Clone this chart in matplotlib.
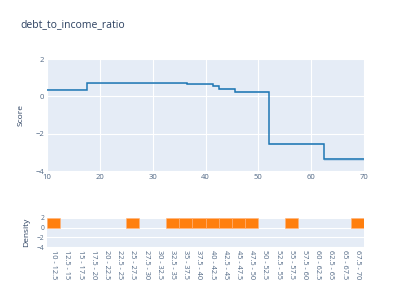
import numpy as np
import matplotlib
matplotlib.use("Agg")
import matplotlib.pyplot as plt

plt.rcParams["font.family"] = ["Open Sans", "DejaVu Sans"]

# score curve (step function over debt_to_income_ratio)
edges = [10, 17.5, 36.5, 41.5, 42.5, 45.5, 52, 62.5, 70]
score = [0.36, 0.70, 0.64, 0.56, 0.38, 0.23, -2.56, -3.38]
score_lo = [0.32, 0.67, 0.60, 0.51, 0.34, 0.19, -2.62, -3.45]
score_hi = [0.40, 0.73, 0.68, 0.61, 0.42, 0.27, -2.50, -3.31]

# density row
bins = ["10 - 12.5", "12.5 - 15", "15 - 17.5", "17.5 - 20", "20 - 22.5",
        "22.5 - 25", "25 - 27.5", "27.5 - 30", "30 - 32.5", "32.5 - 35",
        "35 - 37.5", "37.5 - 40", "40 - 42.5", "42.5 - 45", "45 - 47.5",
        "47.5 - 50", "50 - 52.5", "52.5 - 55", "55 - 57.5", "57.5 - 60",
        "60 - 62.5", "62.5 - 65", "65 - 67.5", "67.5 - 70"]
density = [2, 0, 0, 0, 0, 0, 2, 0, 0, 2, 2, 2, 2, 2, 2, 2, 0, 0, 2, 0, 0, 0, 0, 2]

BG = "#E5ECF6"
TXT = "#2a3f5f"
BLUE = "#1f77b4"
ORANGE = "#ff7f0e"

fig = plt.figure(figsize=(4.11, 2.94), dpi=100)
fig.text(20 / 411, 1 - 25 / 294, "debt_to_income_ratio", fontsize=7.5,
         color=TXT, ha="left", va="center")


def style(ax):
    ax.set_facecolor(BG)
    for s in ax.spines.values():
        s.set_visible(False)
    ax.tick_params(length=0, colors="#506784", labelsize=5.5, pad=2)
    ax.set_axisbelow(True)


# top panel
ax1 = fig.add_axes([47 / 411, 1 - 171 / 294, 317 / 411, 112 / 294])
style(ax1)
ax1.stairs(score_hi, edges, baseline=score_lo, fill=True, color=BLUE, alpha=0.18, lw=0)
ax1.stairs(score, edges, baseline=None, color=BLUE, lw=1.1)
ax1.set_xlim(10, 70)
ax1.set_ylim(-4, 2)
ax1.set_xticks(range(10, 71, 10))
ax1.set_yticks([-4, -2, 0, 2])
ax1.grid(color="white", lw=0.8)
ax1.set_ylabel("Score", fontsize=6, color=TXT, labelpad=8)

# bottom panel
ax2 = fig.add_axes([47 / 411, 1 - 247 / 294, 317 / 411, 29 / 294])
style(ax2)
x = np.arange(len(bins))
dens = np.array(density, dtype=float)
nz = dens > 0
ax2.bar(x[nz], dens[nz], width=1.0, color=ORANGE, edgecolor="#ffb27a", lw=0.4)
ax2.set_xlim(-0.5, len(bins) - 0.5)
ax2.set_ylim(-4, 2)
ax2.set_yticks([-4, -2, 0, 2])
ax2.set_xticks(x)
ax2.set_xticklabels(bins, rotation=-90, va="top", ha="center", fontsize=5.3)
ax2.tick_params(axis="y", labelsize=4.8)
ax2.grid(axis="y", color="white", lw=0.8)
ax2.set_ylabel("Density", fontsize=6, color=TXT, labelpad=5)

fig.savefig("out.png", dpi=100)
